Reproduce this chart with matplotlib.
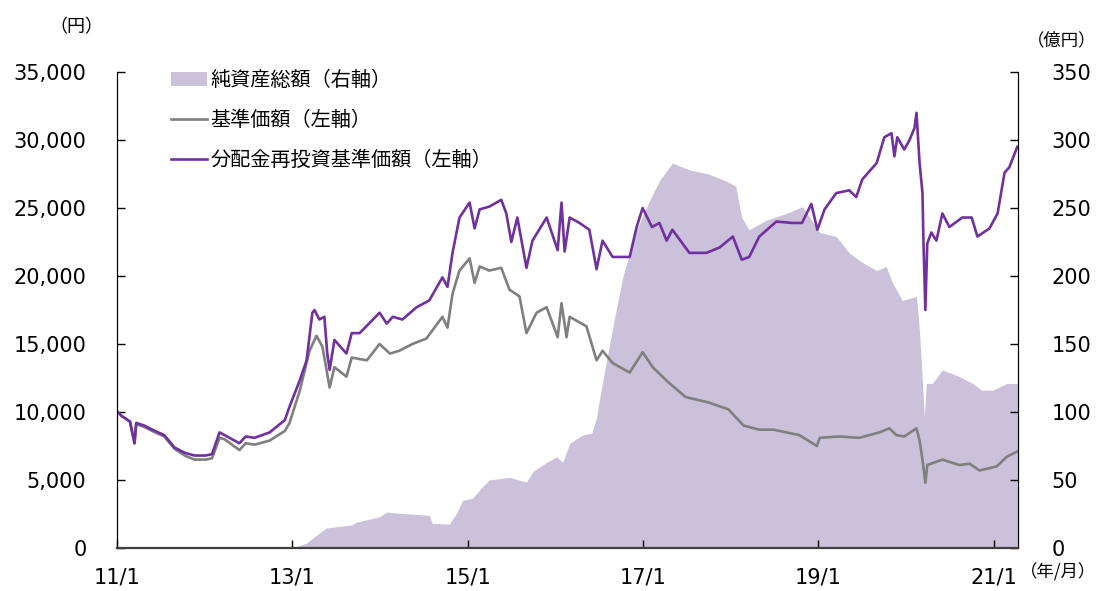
import matplotlib
matplotlib.use("Agg")
import matplotlib.pyplot as plt
from matplotlib.patches import Patch
from matplotlib.lines import Line2D
from matplotlib.ticker import FuncFormatter
import pandas as pd

# 分配金再投資基準価額（円）
reinv_dates = [
    "2011-01-04", "2011-01-21", "2011-02-24", "2011-03-15", "2011-03-22", "2011-04-25",
    "2011-05-28", "2011-07-17", "2011-08-28", "2011-10-10", "2011-11-20", "2012-01-05",
    "2012-02-01", "2012-03-03", "2012-03-24", "2012-05-25", "2012-06-20", "2012-07-27",
    "2012-09-28", "2012-11-30", "2012-12-20", "2013-02-01", "2013-03-01", "2013-03-25",
    "2013-04-03", "2013-04-23", "2013-05-14", "2013-05-26", "2013-06-05", "2013-06-25",
    "2013-08-14", "2013-09-05", "2013-10-08", "2013-12-30", "2014-01-29", "2014-02-23",
    "2014-04-04", "2014-06-02", "2014-07-25", "2014-09-18", "2014-10-09", "2014-10-30",
    "2014-11-28", "2015-01-09", "2015-01-30", "2015-02-20", "2015-04-01", "2015-05-21",
    "2015-06-11", "2015-07-02", "2015-07-27", "2015-09-03", "2015-09-28", "2015-11-26",
    "2016-01-11", "2016-01-27", "2016-02-09", "2016-03-01", "2016-04-11", "2016-05-22",
    "2016-06-21", "2016-07-16", "2016-08-27", "2016-11-06", "2016-12-05", "2016-12-30",
    "2017-02-07", "2017-03-10", "2017-04-09", "2017-05-03", "2017-07-13", "2017-09-22",
    "2017-11-16", "2018-01-10", "2018-02-16", "2018-03-19", "2018-04-30", "2018-07-10",
    "2018-09-16", "2018-10-25", "2018-12-03", "2018-12-28", "2019-01-27", "2019-03-17",
    "2019-05-10", "2019-06-08", "2019-07-03", "2019-09-01", "2019-10-03", "2019-11-02",
    "2019-11-14", "2019-11-26", "2019-12-25", "2020-01-16", "2020-02-06", "2020-02-14",
    "2020-02-27", "2020-03-10", "2020-03-14", "2020-03-22", "2020-03-30", "2020-04-16",
    "2020-05-07", "2020-06-01", "2020-06-30", "2020-08-23", "2020-10-01", "2020-10-25",
    "2020-12-14", "2021-01-17", "2021-02-15", "2021-03-07", "2021-04-09",
]
reinv_values = [
    10000, 9700, 9300, 7700, 9200, 9000,
    8700, 8300, 7400, 7000, 6800, 6800,
    6900, 8500, 8300, 7700, 8200, 8100,
    8500, 9400, 10400, 12350, 13800, 17300,
    17500, 16800, 17000, 14300, 13100, 15300,
    14300, 15800, 15800, 17300, 16500, 17000,
    16800, 17700, 18200, 19900, 19200, 21700,
    24300, 25400, 23500, 24900, 25100, 25600,
    24600, 22500, 24300, 20600, 22600, 24300,
    21900, 25400, 21800, 24300, 23900, 23400,
    20500, 22600, 21400, 21400, 23600, 25000,
    23600, 23900, 22600, 23400, 21700, 21700,
    22100, 22900, 21200, 21400, 22900, 24000,
    23900, 23900, 25300, 23400, 24900, 26100,
    26300, 25800, 27100, 28300, 30200, 30500,
    28800, 30200, 29300, 30000, 30900, 32000,
    28300, 26100, 22600, 17500, 22400, 23200,
    22600, 24600, 23600, 24300, 24300, 22900,
    23500, 24600, 27600, 28000, 29500,
]

# 基準価額（円）
nav_dates = [
    "2011-01-04", "2011-01-21", "2011-02-24", "2011-03-15", "2011-03-22", "2011-04-25",
    "2011-05-28", "2011-07-17", "2011-08-28", "2011-10-10", "2011-11-20", "2012-01-05",
    "2012-02-01", "2012-03-03", "2012-03-24", "2012-05-25", "2012-06-20", "2012-07-27",
    "2012-09-28", "2012-11-30", "2012-12-20", "2013-02-01", "2013-03-13", "2013-04-11",
    "2013-05-06", "2013-06-05", "2013-06-25", "2013-08-14", "2013-09-05", "2013-11-07",
    "2013-12-30", "2014-02-11", "2014-03-22", "2014-05-16", "2014-07-13", "2014-09-18",
    "2014-10-09", "2014-10-30", "2014-11-28", "2015-01-09", "2015-01-30", "2015-02-20",
    "2015-04-01", "2015-05-21", "2015-06-24", "2015-08-05", "2015-09-03", "2015-10-15",
    "2015-11-26", "2016-01-11", "2016-01-27", "2016-02-17", "2016-03-01", "2016-05-10",
    "2016-06-21", "2016-07-16", "2016-08-27", "2016-11-06", "2016-12-30", "2017-02-10",
    "2017-04-09", "2017-06-27", "2017-10-01", "2017-12-22", "2018-02-24", "2018-04-30",
    "2018-06-28", "2018-10-14", "2018-12-26", "2019-01-07", "2019-03-29", "2019-06-20",
    "2019-09-13", "2019-10-24", "2019-11-22", "2019-12-25", "2020-02-14", "2020-02-27",
    "2020-03-10", "2020-03-22", "2020-03-30", "2020-06-01", "2020-08-11", "2020-09-22",
    "2020-11-03", "2021-01-13", "2021-02-24", "2021-04-09",
]
nav_values = [
    10000, 9700, 9300, 7700, 9100, 8900,
    8600, 8200, 7300, 6800, 6500, 6500,
    6600, 8100, 8000, 7200, 7700, 7600,
    7900, 8600, 9200, 11600, 14500, 15600,
    14800, 11800, 13300, 12600, 14000, 13800,
    15000, 14300, 14500, 15000, 15400, 17000,
    16200, 18700, 20400, 21300, 19500, 20700,
    20400, 20600, 19000, 18500, 15800, 17300,
    17700, 15500, 18000, 15500, 17000, 16300,
    13800, 14500, 13600, 12900, 14400, 13300,
    12300, 11100, 10700, 10200, 9000, 8700,
    8700, 8300, 7500, 8100, 8200, 8100,
    8500, 8800, 8300, 8200, 8800, 7900,
    6500, 4800, 6100, 6500, 6100, 6200,
    5700, 6000, 6700, 7100,
]

# 純資産総額（億円）
asset_dates = [
    "2011-01-04", "2012-03-03", "2012-03-12", "2012-12-20", "2013-01-19", "2013-03-01",
    "2013-04-23", "2013-05-22", "2013-09-05", "2013-09-25", "2013-12-30", "2014-01-29",
    "2014-03-10", "2014-07-25", "2014-08-07", "2014-10-17", "2014-11-16", "2014-12-11",
    "2015-01-22", "2015-03-03", "2015-04-01", "2015-06-24", "2015-09-03", "2015-09-28",
    "2015-11-26", "2016-01-07", "2016-02-01", "2016-03-01", "2016-04-23", "2016-06-01",
    "2016-06-21", "2016-07-03", "2016-08-27", "2016-10-08", "2016-12-05", "2017-01-29",
    "2017-03-10", "2017-05-03", "2017-07-13", "2017-10-01", "2017-12-11", "2018-01-22",
    "2018-02-16", "2018-03-19", "2018-05-29", "2018-08-21", "2018-10-27", "2019-01-07",
    "2019-03-17", "2019-05-10", "2019-07-03", "2019-09-01", "2019-10-11", "2019-11-06",
    "2019-12-17", "2020-02-14", "2020-02-27", "2020-03-10", "2020-03-18", "2020-03-26",
    "2020-04-20", "2020-06-01", "2020-08-11", "2020-10-05", "2020-11-11", "2020-12-27",
    "2021-02-24", "2021-04-09",
]
asset_values = [
    0, 0, 0.5, 0.5, 1, 3.7,
    11, 14.7, 17, 19, 23, 26.5,
    25.7, 24, 18, 17.6, 25.7, 35,
    36.7, 45, 50, 52, 48.5, 56,
    63, 67, 63, 77, 83, 84.5,
    96, 109, 162, 199, 234, 256,
    270, 283, 278, 275, 270, 266,
    243, 234, 241, 246, 251, 232,
    229, 217, 210, 204, 207, 195,
    182, 185, 158, 121, 96, 121,
    121, 131, 126, 121, 116, 116,
    121, 121,
]

tick_dates = ["2011-01-01", "2013-01-01", "2015-01-01", "2017-01-01", "2019-01-01", "2021-01-01"]
tick_labels = ["11/1", "13/1", "15/1", "17/1", "19/1", "21/1"]

legend_labels = ["純資産総額（右軸）", "基準価額（左軸）", "分配金再投資基準価額（左軸）"]

area_color = "#CBC1DB"
nav_color = "#7F7F7F"
reinv_color = "#7030A0"
jp = ["Noto Sans CJK JP", "DejaVu Sans"]

fig = plt.figure(figsize=(10.97, 5.91), dpi=100)
ax = fig.add_axes([117 / 1097, 1 - 548 / 591, (1018 - 117) / 1097, (548 - 72) / 591])
ax2 = ax.twinx()

ax2.fill_between(pd.to_datetime(asset_dates), asset_values, 0, color=area_color, lw=0)
ax.plot(pd.to_datetime(nav_dates), nav_values, color=nav_color, lw=1.9)
ax.plot(pd.to_datetime(reinv_dates), reinv_values, color=reinv_color, lw=1.9)

# 折れ線を面グラフの上に出す
ax.set_zorder(ax2.get_zorder() + 1)
ax.patch.set_visible(False)

ax.set_xlim(pd.Timestamp("2011-01-01"), pd.Timestamp("2021-04-12"))
ax.set_ylim(0, 35000)
ax2.set_ylim(0, 350)
ax.set_yticks(range(0, 35001, 5000))
ax2.set_yticks(range(0, 351, 50))
ax.yaxis.set_major_formatter(FuncFormatter(lambda v, p: f"{v:,.0f}"))
ax.set_xticks(pd.to_datetime(tick_dates))
ax.set_xticklabels(tick_labels)

for a in (ax, ax2):
    a.spines["top"].set_visible(False)
    a.tick_params(direction="in", length=6, width=1, labelsize=15, colors="black")
ax.tick_params(axis="y", pad=22)
ax2.tick_params(axis="y", pad=24)
ax.tick_params(axis="x", pad=14)
ax.spines["bottom"].set_color("#404040")
ax.spines["bottom"].set_linewidth(1.6)
ax2.spines["bottom"].set_visible(False)

fig.text(76 / 1097, 1 - 27 / 591, "（円）", family=jp, fontsize=13, ha="center", va="center")
fig.text(1096 / 1097, 1 - 40 / 591, "（億円）", family=jp, fontsize=12.5, ha="right", va="center")
fig.text(1096 / 1097, 1 - 572 / 591, "（年/月）", family=jp, fontsize=12.5, ha="right", va="center")

handles = [
    Patch(facecolor=area_color, edgecolor="none"),
    Line2D([], [], color=nav_color, lw=1.9),
    Line2D([], [], color=reinv_color, lw=1.9),
]
fig.legend(handles, legend_labels, loc="upper left",
           bbox_to_anchor=(171 / 1097, 1 - 70 / 591), bbox_transform=fig.transFigure,
           frameon=False, borderpad=0, borderaxespad=0, handlelength=1.8,
           handleheight=0.75, handletextpad=0.15, labelspacing=0.95,
           prop={"family": jp, "size": 14.5})

fig.savefig("out.png", dpi=100)
